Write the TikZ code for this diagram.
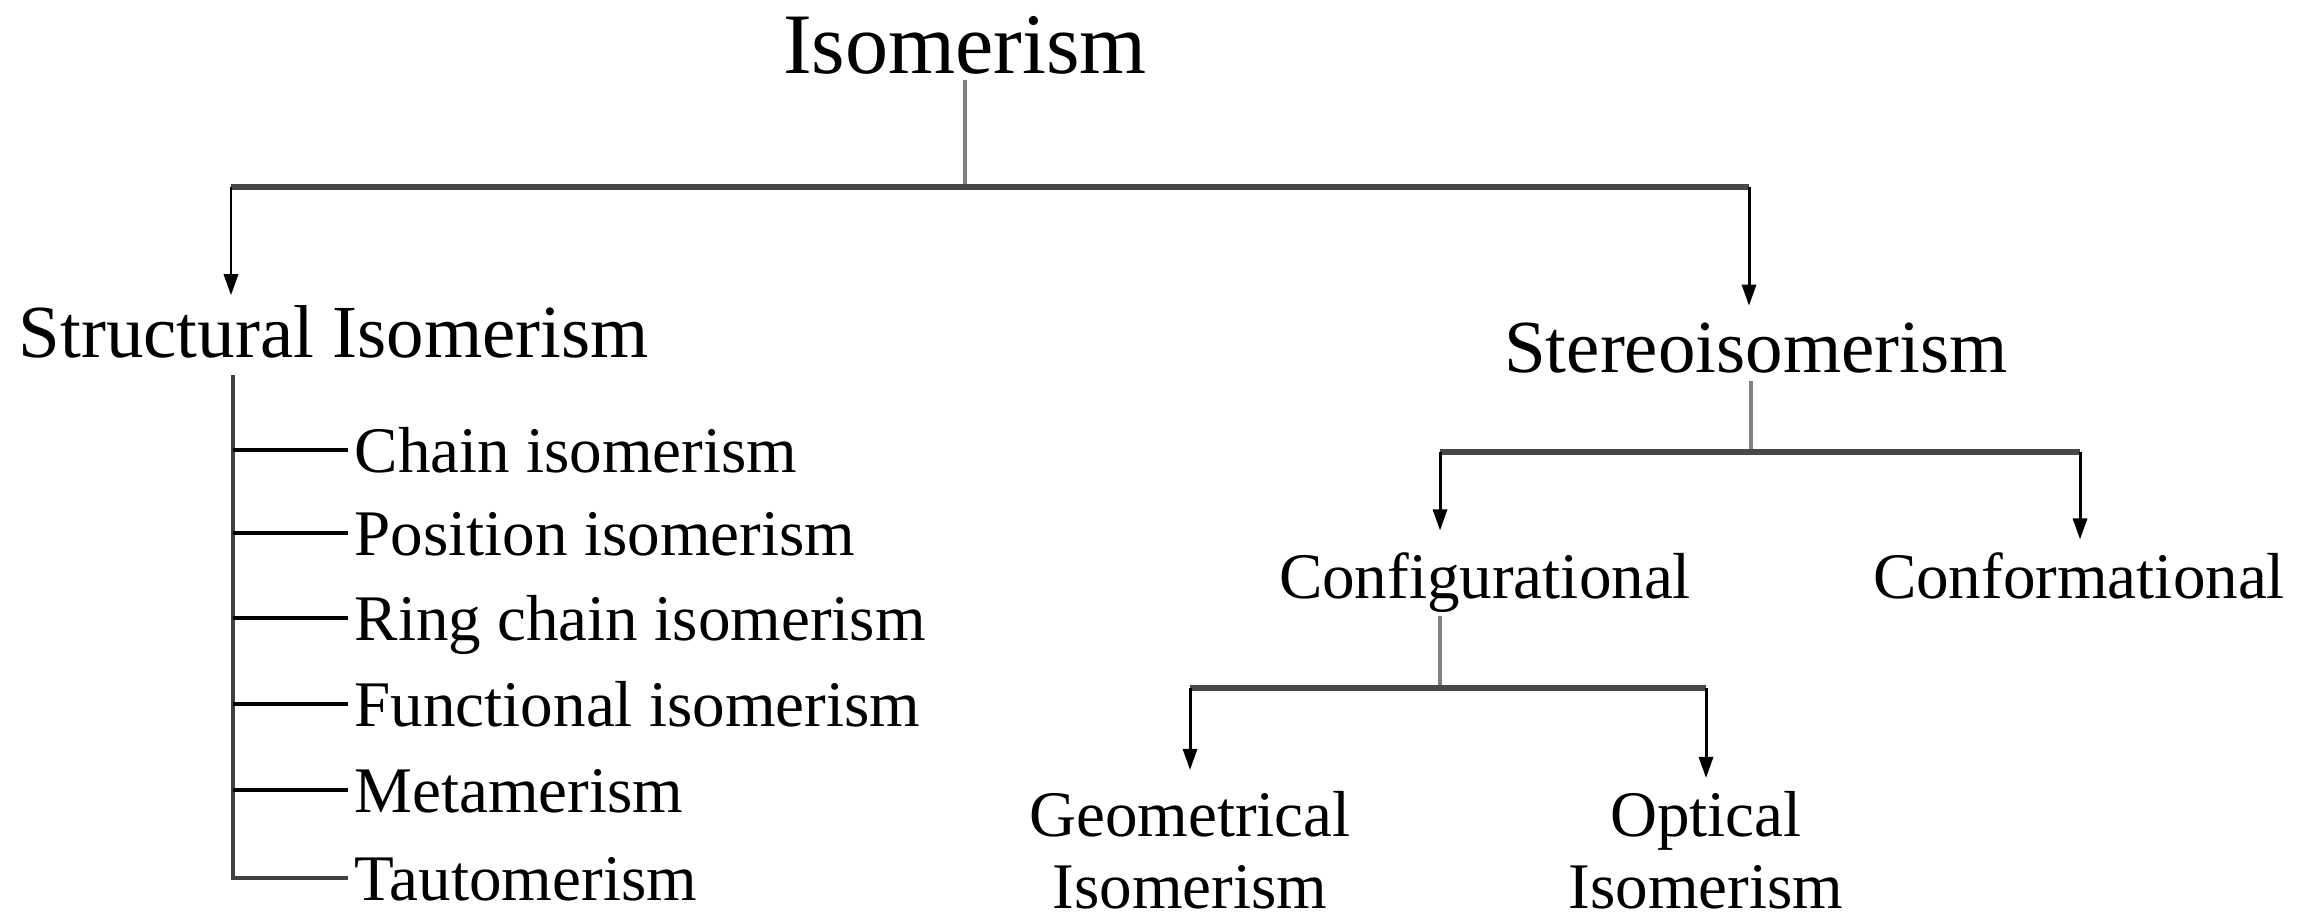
\documentclass[tikz,border=0pt]{standalone}
\usepackage{fontspec}
\setmainfont{Liberation Serif}
\usetikzlibrary{arrows.meta}
\tikzset{>={Triangle[length=6pt,width=4pt]}}

\begin{document}
\begin{tikzpicture}[x=0.01cm, y=-0.01cm,
    lbl/.style={inner sep=0pt, anchor=base},
    toplbl/.style={lbl, font=\fontsize{24.5}{29}\selectfont},
    midlbl/.style={lbl, font=\fontsize{21.3}{25}\selectfont},
    sublbl/.style={lbl, font=\fontsize{18.5}{20.4}\selectfont},
    itemlbl/.style={sublbl, anchor=west, inner xsep=1.7pt, text height=13pt, text depth=0pt},
    stem/.style={draw=black!50, line width=0.9pt},
    bar/.style={draw=black!72, line width=1.7pt},
    arr/.style={->, line width=0.85pt},
    branch/.style={line width=0.95pt}]
\useasboundingbox (0,0) rectangle (2316,913);

    % labels
    \node[toplbl] (iso) at (965,74) {Isomerism};
    \node[midlbl, anchor=base west] (struct) at (18,358) {Structural Isomerism};
    \node[midlbl] (stereo) at (1756,373) {Stereoisomerism};
    \node[sublbl] (config) at (1485,598) {Configurational};
    \node[sublbl] (conform) at (2079,598) {Conformational};
    \node[sublbl, align=center, anchor=north] (geo) at (1190,791) {Geometrical\\Isomerism};
    \node[sublbl, align=center, anchor=north] (opt) at (1706,791) {Optical\\Isomerism};

    \node[itemlbl] (chain) at (348,450) {Chain isomerism};
    \node[itemlbl] (position) at (348,533) {Position isomerism};
    \node[itemlbl] (ring) at (348,618) {Ring chain isomerism};
    \node[itemlbl] (functional) at (348,704) {Functional isomerism};
    \node[itemlbl] (meta) at (348,790) {Metamerism};
    \node[itemlbl] (tauto) at (348,878) {Tautomerism};

    % junctions
    \coordinate (j1) at (965,187);
    \coordinate (b1l) at (231,187);
    \coordinate (b1r) at (1749,187);
    \coordinate (j2) at (1751,452);
    \coordinate (b2l) at (1440,452);
    \coordinate (b2r) at (2080,452);
    \coordinate (j3) at (1440,688);
    \coordinate (b3l) at (1190,688);
    \coordinate (b3r) at (1706,688);
    \coordinate (trunk) at (233,375);

    % Isomerism
    \draw[stem, shorten <=0.04cm] (iso.south) -- (j1);
    \draw[bar] (b1l) -- (b1r);
    \draw[arr, shorten >=0.1cm] (b1l) -- (b1l |- struct.north);
    \draw[arr, shorten >=0.17cm] (b1r) -- (b1r |- stereo.north);

    % structural
    \draw[branch, draw=black!75] (trunk) |- (tauto.west);
    \draw[branch] (trunk |- chain.west) -- (chain.west);
    \draw[branch] (trunk |- position.west) -- (position.west);
    \draw[branch] (trunk |- ring.west) -- (ring.west);
    \draw[branch] (trunk |- functional.west) -- (functional.west);
    \draw[branch] (trunk |- meta.west) -- (meta.west);

    % stereo
    \draw[stem, shorten <=0.07cm] (stereo.south -| j2) -- (j2);
    \draw[bar] (b2l) -- (b2r);
    \draw[arr, shorten >=0.21cm] (b2l) -- (b2l |- config.north);
    \draw[arr, shorten >=0.12cm] (b2r) -- (b2r |- conform.north);

    % configurational
    \draw[stem, shorten <=0.03cm] (config.south -| j3) -- (j3);
    \draw[bar] (b3l) -- (b3r);
    \draw[arr, shorten >=0.21cm] (b3l) -- (b3l |- geo.north);
    \draw[arr, shorten >=0.13cm] (b3r) -- (b3r |- opt.north);

\end{tikzpicture}
\end{document}
